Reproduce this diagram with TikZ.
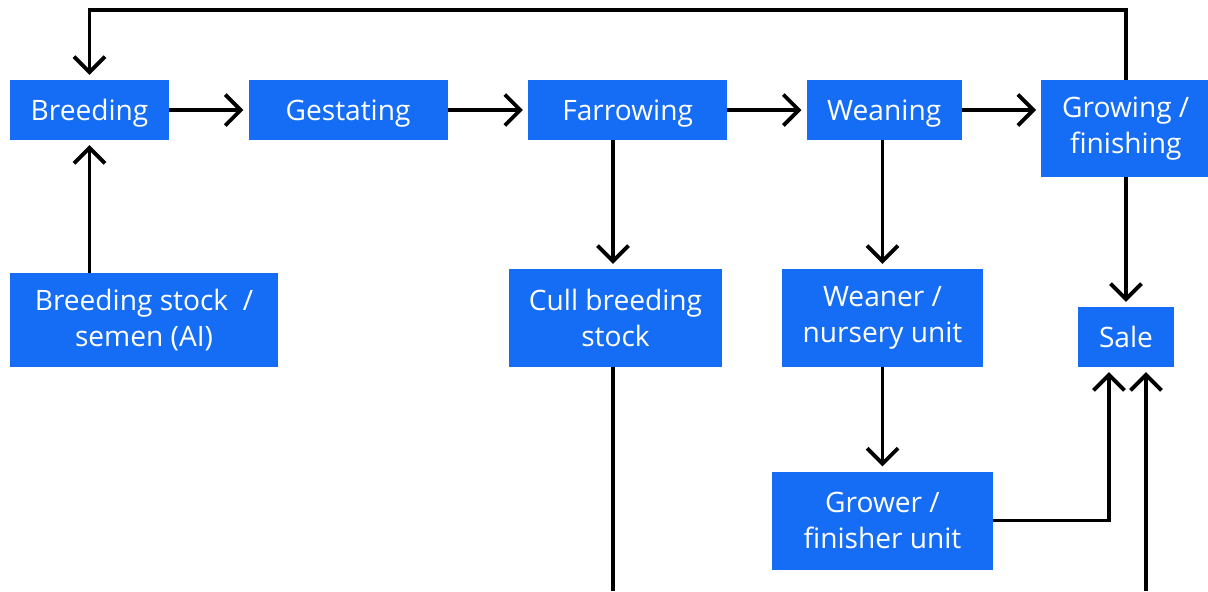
\documentclass[tikz,border=0pt]{standalone}
\usepackage{fontspec}
\setmainfont{Open Sans}
\usetikzlibrary{positioning, arrows.meta}
\definecolor{boxblue}{RGB}{22,109,245}

\begin{document}
\begin{tikzpicture}[>={Straight Barb[length=11pt, width=22pt]},
  box/.style={fill=boxblue, text=white, minimum height=1.5cm, inner sep=0pt,
              font=\fontsize{20}{25.6}\selectfont, align=center},
  oneline/.style={box, text depth=0pt},
  flow/.style={->, line width=2.7pt, shorten >=3.5pt}]
  \useasboundingbox (0,0) rectangle (30.2,-14.775);
  % top row: the stages
  \node[oneline, minimum width=3.975cm] (Br) at (2.2375,-2.75) {Breeding};
  \node[oneline, minimum width=4.975cm, right=1.975cm of Br] (Ge) {Gestating};
  \node[oneline, minimum width=4.975cm, right=2cm of Ge] (Fa) {Farrowing};
  \node[oneline, minimum width=3.875cm, right=1.975cm of Fa] (We) {Weaning};
  \node[box, minimum width=4.225cm, minimum height=2.425cm,
        right=1.975cm of We.north east, anchor=north west] (Gr) {Growing /\\finishing};
  % lower boxes
  \node[box, minimum width=6.7cm, minimum height=2.35cm] (Bs) at (3.6,-8.0)
    {Breeding stock\ \ /\\semen (AI)};
  \node[box, minimum width=5.325cm, minimum height=2.45cm] (Cu) at (15.3875,-7.95)
    {Cull breeding\\stock};
  \node[box, minimum width=5.025cm, minimum height=2.45cm] (Wn) at (22.0625,-7.95)
    {Weaner /\\nursery unit};
  \node[oneline, minimum width=2.4cm] (Sa) at (28.15,-8.425) {Sale};
  \node[box, minimum width=5.525cm, minimum height=2.45cm, below=2.6cm of Wn] (Gf)
    {Grower /\\finisher unit};
  % line positions and free ends at the bottom edge
  \coordinate (cullx) at (15.325,0);
  \coordinate (cullend) at (15.325,-14.775);
  \coordinate (saleend) at (28.65,-14.775);
  % connectors
  \draw[flow] (Br) -- (Ge);
  \draw[flow] (Ge) -- (Fa);
  \draw[flow] (Fa) -- (We);
  \draw[flow] (We.east) -- (We.east -| Gr.west);
  \draw[flow] (Gr.north -| Sa.north) -- ++(0,1.75) -| (Br.north);
  \draw[flow] (Bs.north -| Br.south) -- (Br.south);
  \draw[flow] (Fa.south -| cullx) -- (Cu.north -| cullx);
  \draw[flow] (We.south -| Wn.north) -- (Wn.north);
  \draw[flow] (Wn) -- (Gf);
  \draw[flow] (Gr.south -| Sa.north) -- (Sa.north);
  \draw[flow] (Gf.east) -| ([xshift=-0.425cm]Sa.south);
  \draw[line width=2.7pt] (Cu.south -| cullend) -- (cullend);
  \draw[flow] (saleend) -- (saleend |- Sa.south);
\end{tikzpicture}
\end{document}
